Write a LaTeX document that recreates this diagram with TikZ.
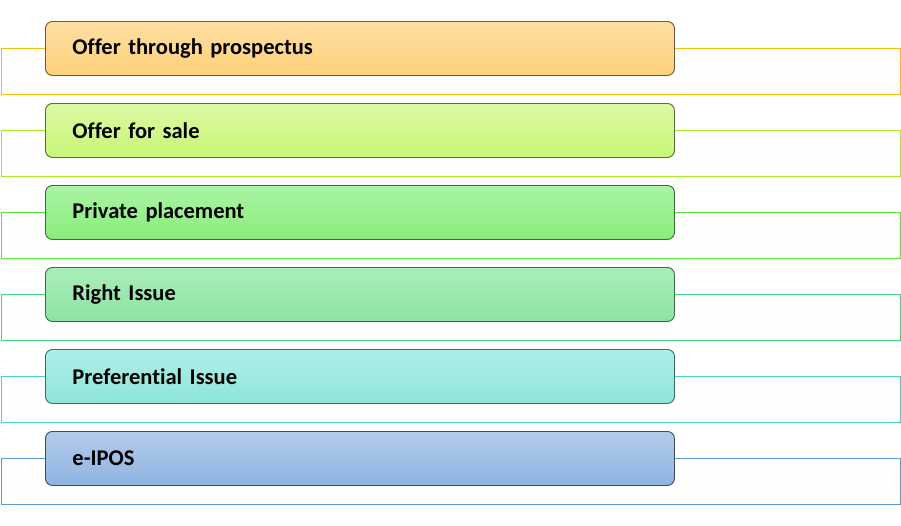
\documentclass[tikz,border=0pt]{standalone}
\usepackage{fontspec}
\setmainfont{Carlito}[Ligatures=NoCommon]
\newcommand\itemfont{\fontsize{22.5}{27}\selectfont\bfseries\fontdimen2\font=0.13em\fontdimen3\font=0pt}
\begin{document}
\begin{tikzpicture}[x=1pt, y=-1pt,
        frame/.style={draw, line width=1pt, fill=white!99.5!black, anchor=north west, minimum width=899.5pt, minimum height=46pt, inner sep=0pt},
        item/.style={draw, line width=0.9pt, rounded corners=7pt, anchor=north west, minimum width=629pt, minimum height=54pt, text width=575pt, inner xsep=27pt, inner ysep=0pt, align=left, font=\itemfont}]
            \definecolor{Ftop1}{HTML}{FFDEA2}\definecolor{Fbot1}{HTML}{FDD17A}\definecolor{Fline1}{HTML}{6B5A3C}\definecolor{Fframe1}{HTML}{F8C000}
            \definecolor{Ftop2}{HTML}{DBF9A3}\definecolor{Fbot2}{HTML}{C9F678}\definecolor{Fline2}{HTML}{5A6B3C}\definecolor{Fframe2}{HTML}{A9EE1C}
            \definecolor{Ftop3}{HTML}{A9F3A3}\definecolor{Fbot3}{HTML}{8AEE7B}\definecolor{Fline3}{HTML}{3F6B3C}\definecolor{Fframe3}{HTML}{58E83A}
            \definecolor{Ftop4}{HTML}{AAEEBA}\definecolor{Fbot4}{HTML}{8CE3A2}\definecolor{Fline4}{HTML}{3D6B4A}\definecolor{Fframe4}{HTML}{3ED87E}
            \definecolor{Ftop5}{HTML}{AFEEE7}\definecolor{Fbot5}{HTML}{8DE6DB}\definecolor{Fline5}{HTML}{3C6B66}\definecolor{Fframe5}{HTML}{44D8C2}
            \definecolor{Ftop6}{HTML}{B3CBE9}\definecolor{Fbot6}{HTML}{8EB4E3}\definecolor{Fline6}{HTML}{3C4B6B}\definecolor{Fframe6}{HTML}{5B9BD5}
            \def\rowdistance{82}
            \def\boxleft{45}
            \def\boxtop{21}
            \def\frameoffset{27}
            \useasboundingbox (0, 0) rectangle (901, 525);
            % outline frames behind the boxes
            \node[frame, draw=Fframe1] (frame1) at (0.5, {\boxtop+\frameoffset}) {};
            \node[frame, draw=Fframe2] (frame2) at (0.5, {\boxtop+\rowdistance+\frameoffset}) {};
            \node[frame, draw=Fframe3] (frame3) at (0.5, {\boxtop+2*\rowdistance+\frameoffset}) {};
            \node[frame, draw=Fframe4] (frame4) at (0.5, {\boxtop+3*\rowdistance+\frameoffset}) {};
            \node[frame, draw=Fframe5] (frame5) at (0.5, {\boxtop+4*\rowdistance+\frameoffset}) {};
            \node[frame, draw=Fframe6] (frame6) at (0.5, {\boxtop+5*\rowdistance+\frameoffset}) {};
            % the boxes
            \node[item, draw=Fline1, top color=Ftop1, bottom color=Fbot1] (B1) at (\boxleft, \boxtop) {Offer through prospectus};
            \node[item, draw=Fline2, top color=Ftop2, bottom color=Fbot2] (B2) at (\boxleft, {\boxtop+\rowdistance}) {Offer for sale};
            \node[item, draw=Fline3, top color=Ftop3, bottom color=Fbot3] (B3) at (\boxleft, {\boxtop+2*\rowdistance}) {Private placement};
            \node[item, draw=Fline4, top color=Ftop4, bottom color=Fbot4] (B4) at (\boxleft, {\boxtop+3*\rowdistance}) {Right Issue};
            \node[item, draw=Fline5, top color=Ftop5, bottom color=Fbot5] (B5) at (\boxleft, {\boxtop+4*\rowdistance}) {Preferential Issue};
            \node[item, draw=Fline6, top color=Ftop6, bottom color=Fbot6] (B6) at (\boxleft, {\boxtop+5*\rowdistance}) {e-IPOS};
        \end{tikzpicture}
\end{document}
